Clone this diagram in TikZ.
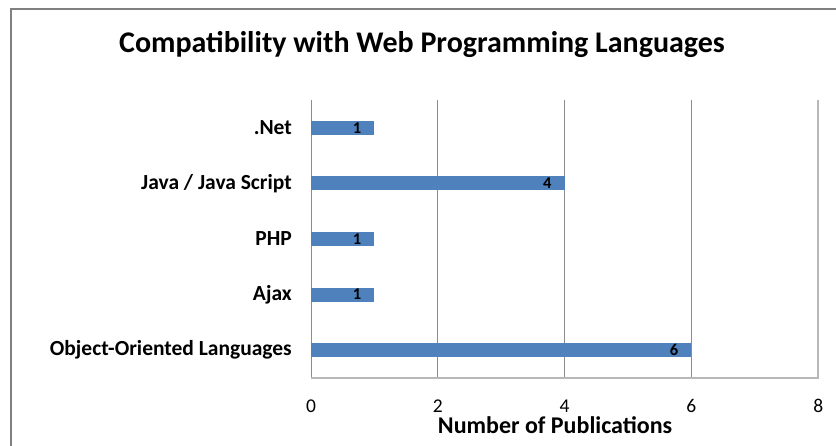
\documentclass[tikz,border=0pt]{standalone}
\usepackage{fontspec}
\setmainfont{Carlito}
\usetikzlibrary{positioning}

\definecolor{barblue}{HTML}{4F81BD}
\tikzset{
  frameline/.style={draw=black!50, line width=2.5pt},
  gridline/.style={draw=black!45, line width=0.9pt},
  axisline/.style={draw=black!28, line width=1.6pt},
  bar/.style={fill=barblue, draw=none},
  catlabel/.style={anchor=east, inner sep=0pt, font=\bfseries\fontsize{21.5}{24}\selectfont},
  ticklabel/.style={inner sep=0pt, font=\fontsize{19.5}{22}\selectfont},
  vallabel/.style={anchor=east, inner sep=0pt, font=\bfseries\fontsize{16.5}{18}\selectfont},
}

\begin{document}
\begin{tikzpicture}[x=1pt,y=1pt]
\useasboundingbox (0,0) rectangle (836,446);
% outer frame, only left and top edges show
\draw[frameline] (11,0) -- (11,437) -- (836,437);
\node[font=\bfseries\fontsize{30}{34}\selectfont] (title) at (422,401) {Compatibility with Web Programming Languages};

% plot area: one x unit per publication, one y unit per language
\begin{scope}[shift={(311,68)}, x=63.4pt, y=55.6pt]
\foreach \v in {0,2,4,6} {
    \draw[gridline] (\v,0) -- (\v,5);
}
\draw[axisline] (0,0) -- (8,0) -- (8,5);
\foreach \v in {0,2,4,6,8} {
    \node[ticklabel] (tick\v) at (\v,0) [yshift=-28pt] {\v};
}
\node[font=\bfseries\fontsize{24}{28}\selectfont] (xtitle) at (3.85,0) [yshift=-47pt] {Number of Publications};
% bars from the top row down
\foreach \val/\name [count=\k from 0] in {1/.Net, 4/{Java / Java Script}, 1/PHP, 1/Ajax, 6/Object-Oriented Languages} {
    \pgfmathsetmacro{\yc}{4.5-\k}
    \fill[bar] (0,\yc-0.125) rectangle (\val,\yc+0.125);
    \node[catlabel] (cat\k) at (0,\yc) [xshift=-19pt] {\name};
    \node[vallabel] (val\k) at (\val,\yc) [xshift=-13pt] {\val};
}
\end{scope}
\end{tikzpicture}
\end{document}
